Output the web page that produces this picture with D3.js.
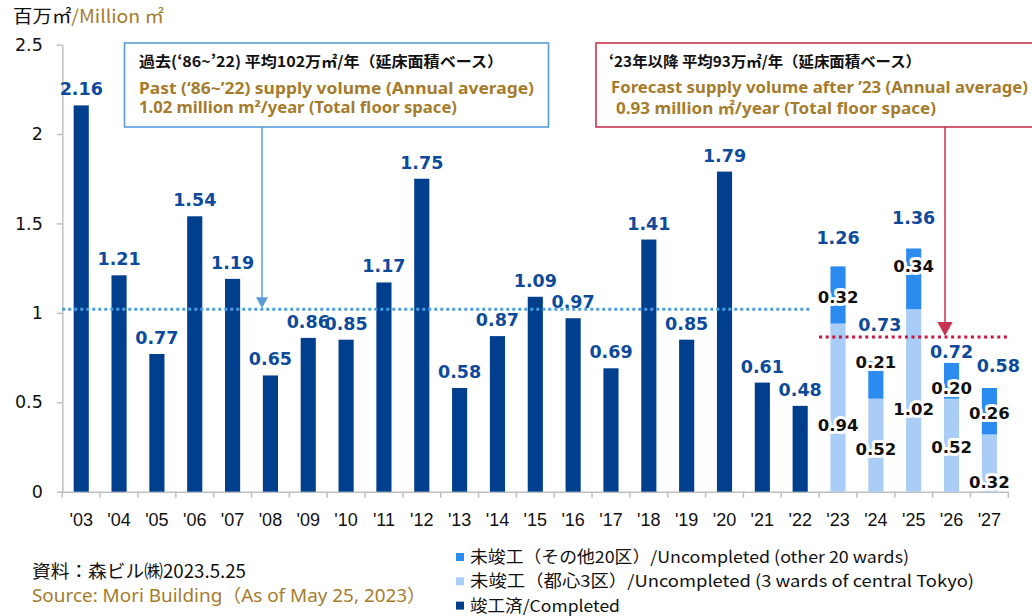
<!DOCTYPE html>
<html lang="ja">
<head>
<meta charset="UTF-8">
<title>Office supply volume</title>
<script src="https://cdn.jsdelivr.net/npm/d3@7"></script>
<style>
  body { margin: 0; background: #fff; }
  svg { display: block; }
</style>
</head>
<body>
<script>
// --- data ---
const years = ["'03","'04","'05","'06","'07","'08","'09","'10","'11","'12","'13","'14","'15",
               "'16","'17","'18","'19","'20","'21","'22","'23","'24","'25","'26","'27"];
const completedYears = years.slice(0, 20);
const completed = [2.16, 1.21, 0.77, 1.54, 1.19, 0.65, 0.86, 0.85, 1.17, 1.75,
                   0.58, 0.87, 1.09, 0.97, 0.69, 1.41, 0.85, 1.79, 0.61, 0.48];
const forecastYears = years.slice(20);
const central3 = [0.94, 0.52, 1.02, 0.52, 0.32];
const other20 = [0.32, 0.21, 0.34, 0.20, 0.26];
const yTicks = [0, 0.5, 1, 1.5, 2, 2.5];
const pastAverage = 1.02;
const forecastLevel = 0.865;

const legendItems = [
  {key: "other", label: "未竣工（その他20区）/Uncompleted (other 20 wards)", w: 439},
  {key: "central", label: "未竣工（都心3区）/Uncompleted (3 wards of central Tokyo)", w: 504},
  {key: "done", label: "竣工済/Completed", w: 150}
];

// hand placement of the forecast labels (px), like the original's dragged labels
const totalNudge = {"'23": [0, -4], "'24": [4, -12], "'25": [0, -6], "'26": [0, 13], "'27": [9, 2]};
const segNudge = {
  central: {"'23": 17, "'24": 4, "'25": 9, "'26": 2, "'27": 19},
  other:   {"'23": 2, "'24": -18, "'25": -13, "'26": 7, "'27": 2}
};

const colour = {done: "#003f8e", central: "#a9cdf6", other: "#2b8bef"};
const gold = "#a57c2c";
const labelBlue = "#0d4a9a";

const width = 1032, height = 616;
const svg = d3.select("body").append("svg").attr("width", width).attr("height", height)
  .style("font-family", "'Noto Sans', 'Noto Sans CJK JP', sans-serif");

const x = d3.scaleBand().domain(years).range([62.3, 1008.3]).padding(0);
const y = d3.scaleLinear().domain([0, 2.5]).range([491.7, 44.6]);
const bw = x.bandwidth();
const barX = d => x(d) + bw * 0.3;
const fmt = d3.format(".2f");

// axes
const yAxis = svg.append("g").attr("transform", `translate(${x.range()[0]},0)`)
  .call(d3.axisLeft(y).tickValues(yTicks).tickSize(5.5).tickSizeOuter(0).tickPadding(14)
        .tickFormat(d3.format("")));
yAxis.selectAll("path,line").attr("stroke", "#bfbfbf").attr("stroke-width", 1.5);
yAxis.selectAll("text").attr("font-family", "'DejaVu Sans', sans-serif")
  .attr("font-size", 17.5).attr("fill", "#111");

const xAxis = svg.append("g").attr("transform", `translate(0,${y(0)})`)
  .call(d3.axisBottom(x).tickSize(0).tickSizeOuter(0).tickPadding(22));
xAxis.select(".domain").attr("stroke", "#bfbfbf").attr("stroke-width", 1.5);
xAxis.selectAll("text").attr("font-size", 18).attr("fill", "#111");
svg.append("g").selectAll("line")
  .data(years.map(d => x(d)).concat([x.range()[1]]))
  .join("line")
  .attr("x1", d => d).attr("x2", d => d)
  .attr("y1", y(0)).attr("y2", y(0) + 6)
  .attr("stroke", "#bfbfbf").attr("stroke-width", 1.5);

// completed bars
const doneRows = completedYears.map((d, i) => ({year: d, value: completed[i]}));
svg.append("g").selectAll("rect")
  .data(doneRows)
  .join("rect")
  .attr("x", d => barX(d.year))
  .attr("width", bw * 0.4)
  .attr("y", d => y(d.value))
  .attr("height", d => y(0) - y(d.value))
  .attr("fill", colour.done);

svg.append("g").selectAll("text")
  .data(doneRows)
  .join("text")
  .attr("x", d => x(d.year) + bw / 2)
  .attr("y", d => y(d.value) - 10)
  .attr("text-anchor", "middle")
  .attr("font-family", "'DejaVu Sans', sans-serif")
  .attr("font-weight", "bold").attr("font-size", 17.5)
  .attr("fill", labelBlue)
  .text(d => fmt(d.value));

// forecast stacked bars
const rows = forecastYears.map((d, i) => ({year: d, central: central3[i], other: other20[i]}));
const series = d3.stack().keys(["central", "other"])(rows);

svg.append("g").selectAll("g")
  .data(series)
  .join("g")
  .attr("fill", s => colour[s.key])
  .selectAll("rect")
  .data(s => s)
  .join("rect")
  .attr("x", d => barX(d.data.year))
  .attr("width", bw * 0.4)
  .attr("y", d => y(d[1]))
  .attr("height", d => y(d[0]) - y(d[1]));

// segment labels with white halo
svg.append("g").selectAll("text")
  .data(series.flatMap(s => s.map(d => ({key: s.key, year: d.data.year, lo: d[0], hi: d[1], v: d.data[s.key]}))))
  .join("text")
  .attr("x", d => x(d.year) + bw / 2)
  .attr("y", d => y((d.lo + d.hi) / 2) + segNudge[d.key][d.year])
  .attr("dy", "0.36em")
  .attr("text-anchor", "middle")
  .attr("font-family", "'DejaVu Sans', sans-serif")
  .attr("font-weight", "bold").attr("font-size", 16.5)
  .attr("fill", "#111")
  .attr("stroke", "#fff").attr("stroke-width", 6).attr("paint-order", "stroke")
  .attr("stroke-linejoin", "round")
  .text(d => fmt(d.v));

svg.append("g").selectAll("text")
  .data(rows)
  .join("text")
  .attr("x", d => x(d.year) + bw / 2 + totalNudge[d.year][0])
  .attr("y", d => y(d.central + d.other) - 18 + totalNudge[d.year][1])
  .attr("text-anchor", "middle")
  .attr("font-family", "'DejaVu Sans', sans-serif")
  .attr("font-weight", "bold").attr("font-size", 17.5)
  .attr("fill", labelBlue)
  .text(d => fmt(d.central + d.other));

// average lines
svg.append("line")
  .attr("x1", x.range()[0]).attr("x2", x(completedYears[19]) + bw * 0.75)
  .attr("y1", y(pastAverage)).attr("y2", y(pastAverage))
  .attr("stroke", "#4a9fe0").attr("stroke-width", 3).attr("stroke-dasharray", "3,3");
svg.append("line")
  .attr("x1", x(forecastYears[0])).attr("x2", x.range()[1] - 1)
  .attr("y1", y(forecastLevel)).attr("y2", y(forecastLevel))
  .attr("stroke", "#c8163e").attr("stroke-width", 3).attr("stroke-dasharray", "3,3.6");

// annotation boxes
function note(bx, by, bw2, bh, stroke, arrowX, arrowY, head, lines) {
  const g = svg.append("g");
  g.append("rect").attr("x", bx).attr("y", by).attr("width", bw2).attr("height", bh)
    .attr("fill", "#fff").attr("stroke", stroke).attr("stroke-width", 1.6);
  g.append("line").attr("x1", arrowX).attr("x2", arrowX)
    .attr("y1", by + bh).attr("y2", arrowY - head)
    .attr("stroke", stroke).attr("stroke-width", 1.5);
  g.append("path")
    .attr("d", `M${arrowX - head * 0.55},${arrowY - head}L${arrowX + head * 0.55},${arrowY - head}L${arrowX},${arrowY}Z`)
    .attr("fill", stroke);
  g.selectAll("text").data(lines).join("text")
    .attr("x", d => d.x).attr("y", d => d.y)
    .attr("font-weight", "bold")
    .attr("font-size", d => d.size)
    .attr("font-family", d => d.jp ? "'Noto Sans CJK JP', sans-serif" : "'Noto Sans', 'Noto Sans CJK JP', sans-serif")
    .attr("fill", d => d.jp ? "#111" : gold)
    .attr("textLength", d => d.w).attr("lengthAdjust", "spacingAndGlyphs")
    .text(d => d.t);
}

note(124.5, 43, 424, 84, "#5b9bd5", 262, y(pastAverage) - 1, 11, [
  {t: "過去(‘86~’22)  平均102万㎡/年（延床面積ベース）", x: 139, y: 67, w: 364, size: 15, jp: true},
  {t: "Past (‘86~’22) supply volume (Annual average)", x: 139, y: 94, w: 395, size: 15.5},
  {t: "1.02 million m²/year (Total floor space)", x: 139, y: 113, w: 318, size: 15.5}
]);
note(596, 43, 450, 84, "#c8334f", 945, y(forecastLevel) - 1, 14, [
  {t: "‘23年以降 平均93万㎡/年（延床面積ベース）", x: 609, y: 67, w: 312, size: 15, jp: true},
  {t: "Forecast supply volume after ’23 (Annual average)", x: 611, y: 93, w: 417, size: 15.5},
  {t: "0.93 million ㎡/year (Total floor space)", x: 616, y: 114, w: 320, size: 15.5}
]);

// unit title
const title = svg.append("text").attr("x", 13).attr("y", 23)
  .attr("font-family", "'Noto Sans CJK JP', sans-serif").attr("font-size", 18)
  .attr("textLength", 151).attr("lengthAdjust", "spacingAndGlyphs");
title.append("tspan").attr("fill", "#111").text("百万㎡");
title.append("tspan").attr("fill", gold).text("/Million ㎡");

// source
svg.append("text").attr("x", 32).attr("y", 578)
  .attr("font-family", "'Noto Sans CJK JP', sans-serif").attr("font-size", 18)
  .attr("textLength", 214).attr("lengthAdjust", "spacingAndGlyphs")
  .attr("fill", "#111").text("資料：森ビル㈱2023.5.25");
svg.append("text").attr("x", 32).attr("y", 602)
  .attr("font-size", 18).attr("fill", gold)
  .attr("textLength", 394).attr("lengthAdjust", "spacingAndGlyphs")
  .text("Source: Mori Building（As of May 25, 2023）");

// legend
const legend = svg.append("g").attr("transform", "translate(456,557)");
const li = legend.selectAll("g").data(legendItems).join("g")
  .attr("transform", (d, i) => `translate(0,${i * 24.3})`);
li.append("rect").attr("x", 0).attr("y", -4).attr("width", 8).attr("height", 8)
  .attr("fill", d => colour[d.key]);
li.append("text").attr("x", 14).attr("dy", "0.36em")
  .attr("font-family", "'Noto Sans CJK JP', sans-serif").attr("font-size", 16.5)
  .attr("textLength", d => d.w).attr("lengthAdjust", "spacingAndGlyphs")
  .attr("fill", "#111").text(d => d.label);
</script>
</body>
</html>
